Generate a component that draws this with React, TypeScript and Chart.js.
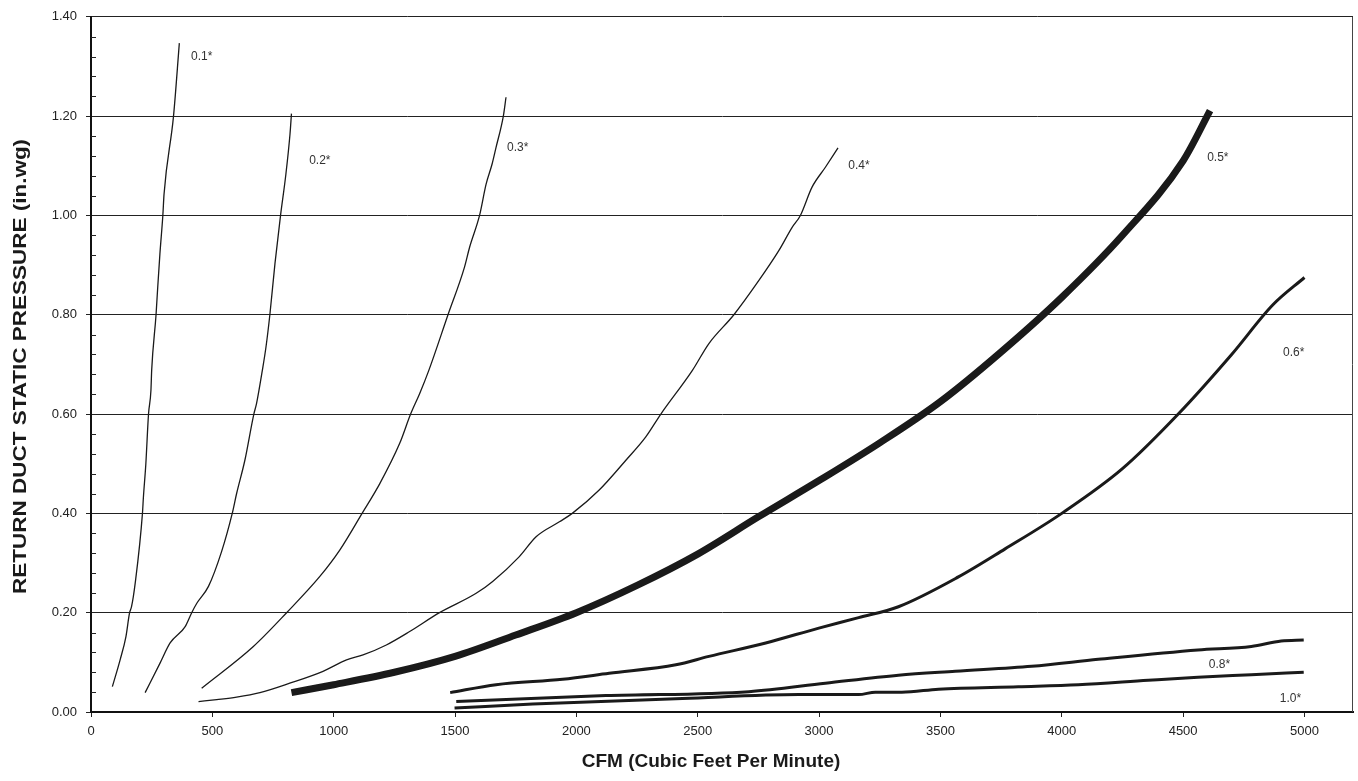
import React, { useEffect, useRef } from 'react';
import { Chart, registerables } from 'chart.js';

Chart.register(...registerables);

// ---- data (CFM vs return duct static pressure, in.wg) ----
const cfm01 = [88, 120, 144, 159, 167, 182, 212, 216, 226, 237, 247, 250, 268, 275, 284, 296, 301, 340, 364];
const sp01 = [0.051, 0.105, 0.152, 0.2, 0.212, 0.259, 0.4, 0.433, 0.5, 0.6, 0.648, 0.688, 0.8, 0.856, 0.923, 1.0, 1.043, 1.2, 1.347];

const cfm02 = [223, 285, 326, 388, 415, 436, 484, 538, 582, 600, 634, 671, 682, 706, 721, 737, 758, 781, 803, 820, 826];
const sp02 = [0.039, 0.099, 0.139, 0.172, 0.2, 0.219, 0.253, 0.323, 0.4, 0.44, 0.507, 0.6, 0.621, 0.688, 0.735, 0.8, 0.903, 1.0, 1.083, 1.164, 1.205];

const cfm03 = [456, 669, 806, 943, 1025, 1117, 1190, 1272, 1317, 1354, 1392, 1471, 1539, 1560, 1601, 1628, 1653, 1669, 1699, 1710];
const sp03 = [0.048, 0.132, 0.2, 0.273, 0.326, 0.4, 0.46, 0.541, 0.6, 0.641, 0.688, 0.8, 0.896, 0.936, 1.0, 1.063, 1.104, 1.137, 1.2, 1.238];

const cfm04 = [443, 518, 600, 696, 819, 956, 1053, 1121, 1217, 1313, 1436, 1587, 1655, 1765, 1834, 1930, 1983, 2094, 2204, 2286, 2348, 2478, 2546, 2649, 2752, 2834, 2889, 2923, 2971, 3026, 3078];
const sp04 = [0.021, 0.025, 0.03, 0.039, 0.058, 0.082, 0.105, 0.115, 0.135, 0.162, 0.2, 0.239, 0.263, 0.313, 0.353, 0.383, 0.4, 0.447, 0.507, 0.554, 0.6, 0.688, 0.742, 0.8, 0.869, 0.929, 0.976, 1.0, 1.057, 1.097, 1.136];

const cfm05 = [826, 1000, 1250, 1500, 1750, 2000, 2250, 2500, 2750, 3000, 3250, 3500, 3750, 4000, 4250, 4500, 4611];
const sp05 = [0.039, 0.055, 0.08, 0.112, 0.155, 0.2, 0.255, 0.318, 0.393, 0.466, 0.542, 0.625, 0.725, 0.835, 0.96, 1.11, 1.211];

const cfm06 = [1480, 1669, 1943, 2135, 2410, 2546, 2780, 2999, 3163, 3327, 3574, 3765, 4000, 4250, 4480, 4700, 4870, 5000];
const sp06 = [0.039, 0.055, 0.066, 0.078, 0.095, 0.112, 0.139, 0.169, 0.19, 0.212, 0.272, 0.328, 0.4, 0.49, 0.6, 0.72, 0.82, 0.875];

const cfm08 = [1505, 2122, 2711, 3026, 3327, 3561, 3876, 4150, 4561, 4781, 4904, 4997];
const sp08 = [0.021, 0.033, 0.041, 0.058, 0.074, 0.082, 0.092, 0.106, 0.125, 0.132, 0.143, 0.145];

const cfm10 = [1498, 1820, 2437, 2916, 3163, 3232, 3341, 3492, 3821, 4068, 4356, 4561, 4781, 4997];
const sp10 = [0.008, 0.016, 0.027, 0.035, 0.035, 0.04, 0.04, 0.046, 0.051, 0.055, 0.064, 0.07, 0.075, 0.08];

const curveNames = ['0.1*', '0.2*', '0.3*', '0.4*', '0.5*', '0.6*', '0.8*', '1.0*'];
const labelCfm = [456, 943, 1758, 3164, 4643, 4956, 4650, 4942];
const labelSp = [1.319, 1.11, 1.137, 1.1, 1.116, 0.724, 0.095, 0.027];

const xTickValues = [0, 500, 1000, 1500, 2000, 2500, 3000, 3500, 4000, 4500, 5000];
const yTickValues = [0, 0.2, 0.4, 0.6, 0.8, 1.0, 1.2, 1.4];

const xTitle = 'CFM (Cubic Feet Per Minute)';
const yTitle = 'RETURN DUCT STATIC PRESSURE (in.wg)';

const seriesX = [cfm01, cfm02, cfm03, cfm04, cfm05, cfm06, cfm08, cfm10];
const seriesY = [sp01, sp02, sp03, sp04, sp05, sp06, sp08, sp10];
const lineWidths = [1.3, 1.3, 1.3, 1.3, 7, 3, 3, 3];

const FONT = '"Liberation Sans", Arial, sans-serif';

const extrasPlugin = {
  id: 'extras',
  afterDraw(chart: any) {
    const { ctx, chartArea, scales } = chart;
    const { left, right, top, bottom } = chartArea;
    const y = scales.y;
    const x = scales.x;
    ctx.save();
    // minor inward ticks on y axis
    ctx.strokeStyle = '#222';
    ctx.lineWidth = 1;
    ctx.beginPath();
    for (let i = 0; i <= 35; i++) {
      if (i % 5 === 0) continue;
      const py = Math.round(y.getPixelForValue(i * 0.04)) + 0.5;
      ctx.moveTo(left, py);
      ctx.lineTo(left + 5, py);
    }
    ctx.stroke();
    // right frame
    ctx.strokeStyle = '#444';
    ctx.beginPath();
    ctx.moveTo(Math.round(right) - 0.5, top);
    ctx.lineTo(Math.round(right) - 0.5, bottom);
    ctx.stroke();
    // curve labels
    ctx.fillStyle = '#333';
    ctx.font = `12px ${FONT}`;
    ctx.textAlign = 'center';
    ctx.textBaseline = 'middle';
    curveNames.forEach((t, i) => {
      ctx.fillText(t, x.getPixelForValue(labelCfm[i]), y.getPixelForValue(labelSp[i]));
    });
    // axis titles
    ctx.fillStyle = '#1a1a1a';
    ctx.font = `bold 19px ${FONT}`;
    ctx.fillText(xTitle, (left + right) / 2 - 11, 762);
    ctx.save();
    ctx.translate(21, (top + bottom) / 2 + 2);
    ctx.rotate(-Math.PI / 2);
    const w = ctx.measureText(yTitle).width;
    ctx.scale(455 / w, 1);
    ctx.fillText(yTitle, 0, 0);
    ctx.restore();
    ctx.restore();
  },
};

export default function App() {
  const ref = useRef<HTMLCanvasElement | null>(null);
  useEffect(() => {
    document.body.style.margin = '0';
    const canvas = ref.current!;
    const datasets = seriesX.map((xs, i) => ({
      label: curveNames[i],
      data: xs.map((v, j) => ({ x: v, y: seriesY[i][j] })),
      borderColor: '#1a1a1a',
      borderWidth: lineWidths[i],
      pointRadius: 0,
      cubicInterpolationMode: 'monotone',
      fill: false,
    }));
    const chart = new Chart(canvas, {
      type: 'line',
      data: { datasets },
      plugins: [extrasPlugin],
      options: {
        animation: false,
        responsive: false,
        layout: { padding: { top: 15, right: 5, left: 0, bottom: 0 } },
        plugins: { legend: { display: false }, tooltip: { enabled: false } },
        scales: {
          x: {
            type: 'linear',
            min: 0,
            max: 5200,
            afterBuildTicks: (s: any) => {
              s.ticks = xTickValues.map((v) => ({ value: v }));
            },
            afterFit: (s: any) => {
              s.height = 69;
            },
            ticks: {
              font: { family: FONT, size: 13 },
              color: '#222',
              padding: 7,
              maxRotation: 0,
              callback: (v: any) => String(v),
            },
            grid: { drawOnChartArea: false, drawTicks: true, tickLength: 5, color: '#222' },
            border: { color: '#111', width: 2 },
          },
          y: {
            type: 'linear',
            min: 0,
            max: 1.4,
            afterBuildTicks: (s: any) => {
              s.ticks = yTickValues.map((v) => ({ value: v }));
            },
            afterFit: (s: any) => {
              s.width = 91;
            },
            ticks: {
              font: { family: FONT, size: 13 },
              color: '#222',
              padding: 9,
              callback: (v: any) => Number(v).toFixed(2),
            },
            grid: { color: '#222', lineWidth: 1, tickLength: 5 },
            border: { color: '#111', width: 2 },
          },
        },
      },
    } as any);
    return () => chart.destroy();
  }, []);
  return (
    <div style={{ width: 1358, height: 781 }}>
      <canvas ref={ref} width={1358} height={781} />
    </div>
  );
}
